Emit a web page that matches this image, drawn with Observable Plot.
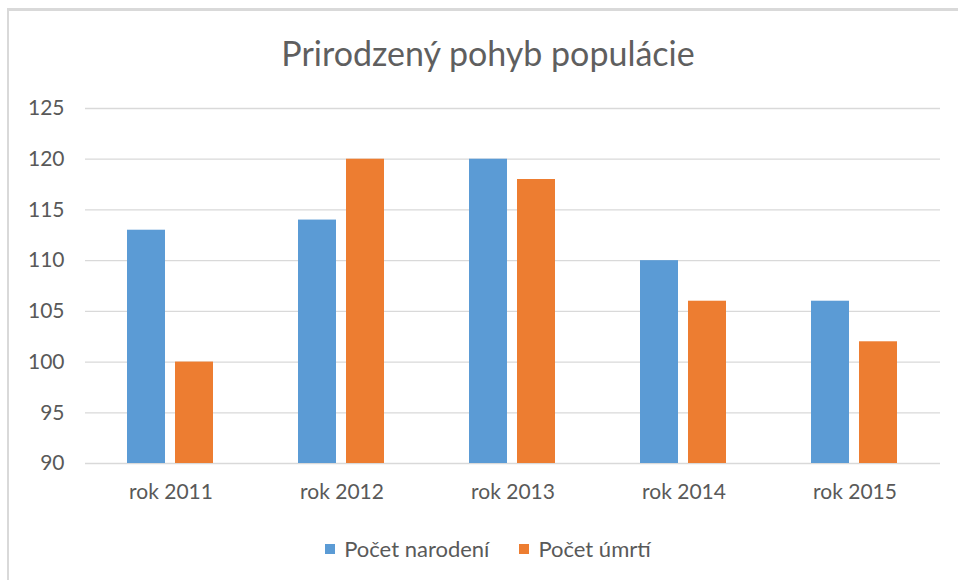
<!DOCTYPE html>
<html>
<head>
<meta charset="utf-8">
<script src="https://cdn.jsdelivr.net/npm/d3@7"></script>
<script src="https://cdn.jsdelivr.net/npm/@observablehq/plot@0.6"></script>
<style>
  html, body { margin: 0; padding: 0; background: #fff; }
  #page { position: relative; width: 958px; height: 580px; overflow: hidden; font-family: Lato, "Open Sans", sans-serif; color: #595959; }
  #frame { position: absolute; left: 7px; top: 8px; width: 980px; height: 600px; border-left: 2px solid #d9d9d9; border-top: 3px solid #d9d9d9; box-sizing: border-box; }
  #title { position: absolute; left: 0; width: 976px; top: 33px; text-align: center; font-size: 34px; line-height: 40px; color: #5f5f5f; }
  #chart { position: absolute; left: 0; top: 85px; }
  #legend { position: absolute; left: 0; width: 976px; top: 531px; text-align: center; font-size: 22px; line-height: 30px; }
  .item { display: inline-flex; align-items: center; margin: 0 15px; }
  .sw { display: inline-block; width: 10px; height: 10px; margin-right: 9px; }
</style>
</head>
<body>
<div id="page">
  <div id="frame"></div>
  <div id="title"></div>
  <div id="chart"></div>
  <div id="legend"></div>
</div>
<script>
const titleText = "Prirodzený pohyb populácie";
const years = ["rok 2011", "rok 2012", "rok 2013", "rok 2014", "rok 2015"];
const narodeni = [113, 114, 120, 110, 106];
const umrti = [100, 120, 118, 106, 102];
const seriesNames = ["Počet narodení", "Počet úmrtí"];
const seriesColors = ["#5b9bd5", "#ed7d31"];
const yDomain = [90, 125];
const yTicks = [90, 95, 100, 105, 110, 115, 120, 125];

const seriesValues = [narodeni, umrti];
const data = years.flatMap((yr, i) =>
  seriesNames.map((s, j) => ({ year: yr, series: s, value: seriesValues[j][i] }))
);

document.getElementById("title").textContent = titleText;

const chart = Plot.plot({
  width: 958,
  height: 440,
  marginLeft: 85,
  marginRight: 18,
  marginTop: 23,
  marginBottom: 62,
  style: { fontFamily: "Lato, 'Open Sans', sans-serif", fontSize: "21px", color: "#595959", background: "transparent" },
  fx: { domain: years, padding: 0, label: null, axis: "bottom", tickSize: 0, tickPadding: 21 },
  x: { domain: seriesNames, paddingInner: 0.208, paddingOuter: 0.885, axis: null },
  y: { domain: yDomain, ticks: yTicks, label: null, tickSize: 0, tickPadding: 21 },
  color: { domain: seriesNames, range: seriesColors },
  marks: [
    Plot.ruleY(yTicks, { stroke: "#d9d9d9", strokeWidth: 1.3 }),
    Plot.barY(data, { fx: "year", x: "series", y1: yDomain[0], y2: "value", fill: "series" })
  ]
});
document.getElementById("chart").appendChild(chart);

const legend = document.getElementById("legend");
seriesNames.forEach((name, i) => {
  const item = document.createElement("span");
  item.className = "item";
  const sw = document.createElement("span");
  sw.className = "sw";
  sw.style.background = seriesColors[i];
  const label = document.createElement("span");
  label.textContent = name;
  item.appendChild(sw);
  item.appendChild(label);
  legend.appendChild(item);
});
</script>
</body>
</html>
